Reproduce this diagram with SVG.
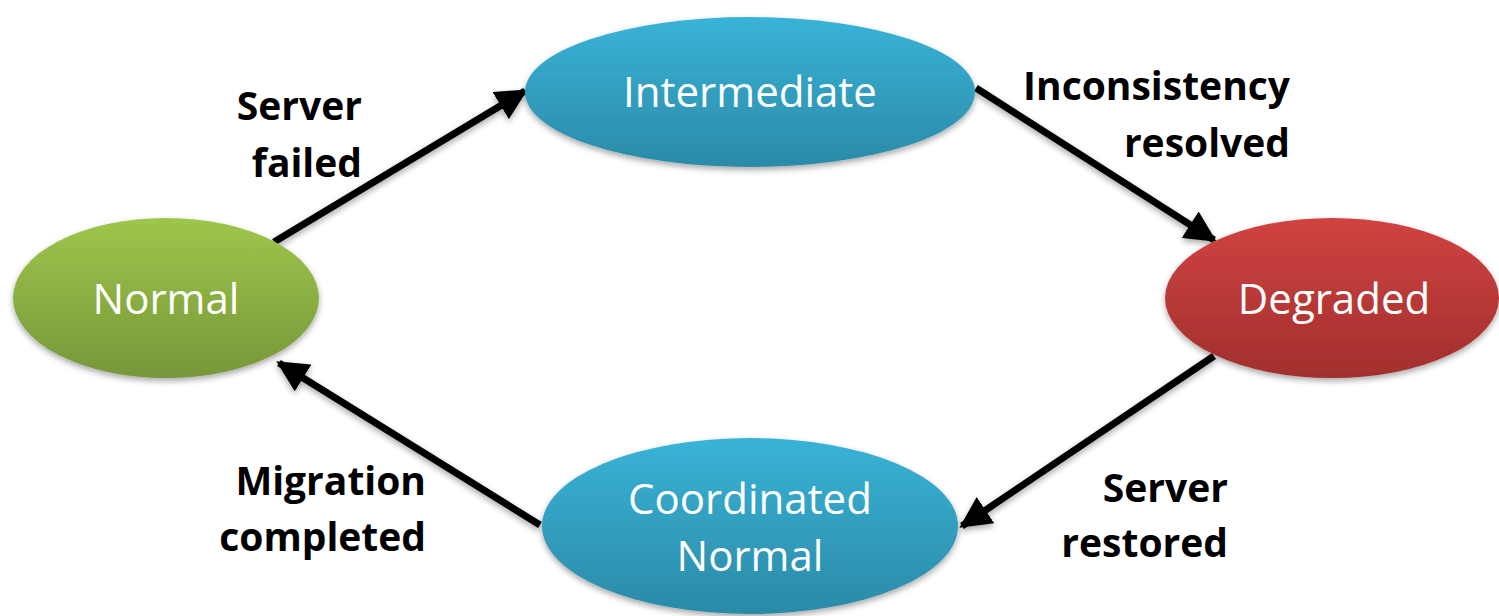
<svg xmlns="http://www.w3.org/2000/svg" width="1499" height="616" viewBox="0 0 1499 616">
  <style>
    .state { font-family: "Open Sans", "Liberation Sans", sans-serif; font-size: 42px; fill: #ffffff; text-anchor: middle; }
    .label { font-family: "Open Sans", "Liberation Sans", sans-serif; font-size: 39px; font-weight: bold; fill: #000000; text-anchor: end; }
    .edge { stroke: #000000; stroke-width: 7; fill: none; marker-end: url(#head); }
  </style>
  <defs>
    <linearGradient id="gGreen" x1="0" y1="0" x2="0" y2="1">
      <stop offset="0" stop-color="#9ec64b"/>
      <stop offset="1" stop-color="#77963a"/>
    </linearGradient>
    <linearGradient id="gBlue" x1="0" y1="0" x2="0" y2="1">
      <stop offset="0" stop-color="#39b3d7"/>
      <stop offset="1" stop-color="#2b8aa7"/>
    </linearGradient>
    <linearGradient id="gRed" x1="0" y1="0" x2="0" y2="1">
      <stop offset="0" stop-color="#d04341"/>
      <stop offset="1" stop-color="#a12f2d"/>
    </linearGradient>
    <filter id="shadow" x="-10%" y="-10%" width="120%" height="130%">
      <feGaussianBlur in="SourceAlpha" stdDeviation="3"/>
      <feOffset dx="0" dy="3" result="b"/>
      <feComponentTransfer><feFuncA type="linear" slope="0.35"/></feComponentTransfer>
      <feMerge><feMergeNode/><feMergeNode in="SourceGraphic"/></feMerge>
    </filter>
    <marker id="head" viewBox="0 0 10 10" refX="9" refY="5" markerWidth="4.5" markerHeight="4.5" orient="auto" markerUnits="strokeWidth">
      <path d="M0,0 L10,5 L0,10 z" fill="#000000"/>
    </marker>
  </defs>

  <!-- transitions -->
  <g id="connectors" filter="url(#shadow)">
    <line class="edge" x1="274" y1="242" x2="525" y2="91"/>
    <line class="edge" x1="976" y1="88" x2="1214" y2="240"/>
    <line class="edge" x1="1214" y1="356" x2="962" y2="526"/>
    <line class="edge" x1="540" y1="525" x2="279" y2="363"/>
  </g>

  <g id="node-normal">
    <ellipse cx="166" cy="298" rx="153" ry="80" fill="url(#gGreen)" filter="url(#shadow)"/>
    <text class="state" x="166" y="314">Normal</text>
  </g>

  <g id="node-intermediate">
    <ellipse cx="750" cy="92" rx="225" ry="75" fill="url(#gBlue)" filter="url(#shadow)"/>
    <text class="state" x="750" y="107">Intermediate</text>
  </g>

  <g id="node-degraded">
    <ellipse cx="1332" cy="298" rx="167" ry="80" fill="url(#gRed)" filter="url(#shadow)"/>
    <text class="state" x="1334" y="314">Degraded</text>
  </g>

  <g id="node-coordinated">
    <ellipse cx="750" cy="526" rx="208" ry="88" fill="url(#gBlue)" filter="url(#shadow)"/>
    <text class="state" x="750" y="514">Coordinated</text>
    <text class="state" x="750" y="571">Normal</text>
  </g>

  <g id="labels">
    <text class="label" x="362" y="120">Server</text>
    <text class="label" x="362" y="177">failed</text>
    <text class="label" x="1290" y="100">Inconsistency</text>
    <text class="label" x="1290" y="157">resolved</text>
    <text class="label" x="1228" y="502">Server</text>
    <text class="label" x="1228" y="557">restored</text>
    <text class="label" x="426" y="495">Migration</text>
    <text class="label" x="426" y="551">completed</text>
  </g>
</svg>
